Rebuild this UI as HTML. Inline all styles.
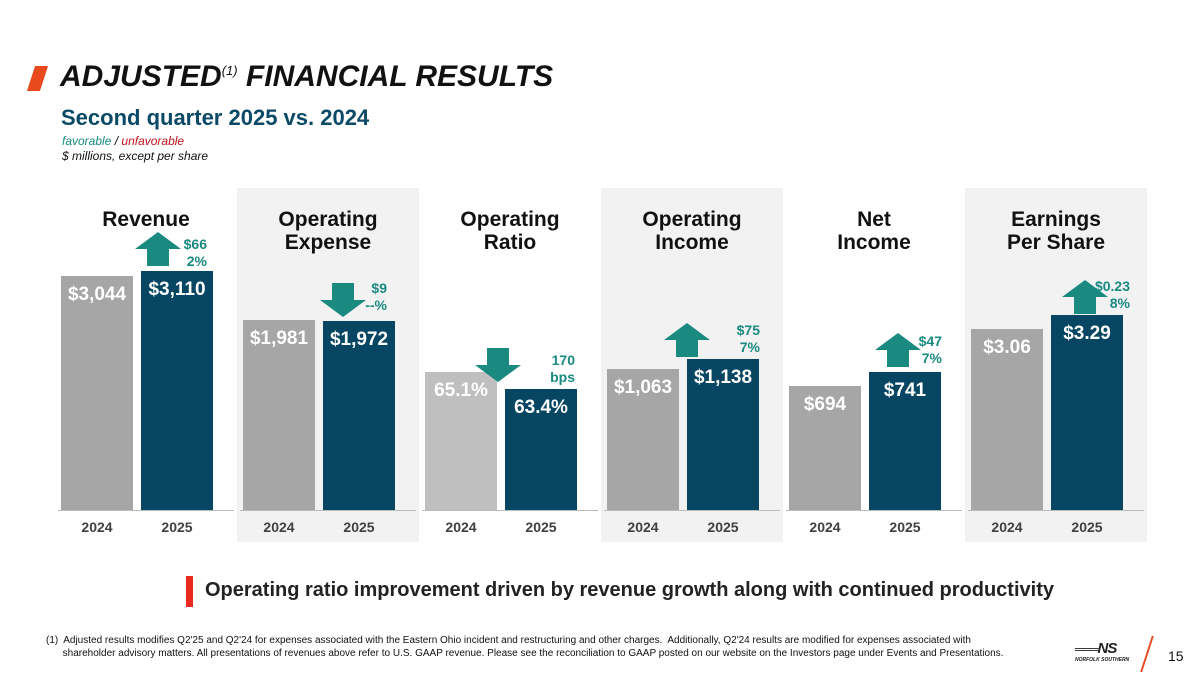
<!DOCTYPE html>
<html><head><meta charset="utf-8"><style>
body{margin:0;width:1200px;height:675px;background:#fff;position:relative;overflow:hidden;font-family:"Liberation Sans",sans-serif}
.a{position:absolute}
.panel{position:absolute;top:188px;height:354px;width:182px;background:#f2f2f2}
.ttl{position:absolute;width:182px;text-align:center;font-weight:bold;font-size:21px;line-height:23px;color:#111;top:208px}
.bar{position:absolute;width:72px}
.bl{position:absolute;color:#fff;font-weight:bold;font-size:19px;white-space:nowrap;width:100%;text-align:center}
.yr{position:absolute;top:519px;font-weight:bold;font-size:14px;color:#404040;width:72px;text-align:center}
.chg{position:absolute;color:#1a8a80;font-weight:bold;font-size:14px;line-height:17px;text-align:right}
</style></head><body>
<div class="a" style="left:31px;top:66px;width:13px;height:25px;background:#e8491d;transform:skewX(-18deg)"></div>
<div class="a" style="left:60px;top:60px;font-size:30px;font-weight:bold;font-style:italic;color:#111">ADJUSTED<sup style="font-size:13px;font-weight:normal">(1)</sup> FINANCIAL RESULTS</div>
<div class="a" style="left:61px;top:105px;font-size:22px;font-weight:bold;color:#0b4a66">Second quarter 2025 vs. 2024</div>
<div class="a" style="left:62px;top:134px;font-size:12px;font-style:italic"><span style="color:#1a8a80">favorable</span> / <span style="color:#c0141c">unfavorable</span></div>
<div class="a" style="left:62px;top:149px;font-size:12px;font-style:italic;color:#111">$ millions, except per share</div>
<div id="chart"></div>
<div class="a" style="left:186px;top:576px;width:7px;height:31px;background:#e8291d"></div>
<div class="a" style="left:205px;top:579px;font-size:20px;font-weight:bold;color:#222">Operating ratio improvement driven by revenue growth along with continued productivity</div>
<div class="a" style="left:46px;top:634px;font-size:10px;line-height:13px;color:#111;width:1010px;white-space:nowrap">(1)&nbsp; Adjusted results modifies Q2'25 and Q2'24 for expenses associated with the Eastern Ohio incident and restructuring and other charges.&nbsp; Additionally, Q2'24 results are modified for expenses associated with<br>&nbsp;&nbsp;&nbsp;&nbsp;&nbsp;&nbsp;shareholder advisory matters. All presentations of revenues above refer to U.S. GAAP revenue. Please see the reconciliation to GAAP posted on our website on the Investors page under Events and Presentations.</div>
<div class="a" style="left:1075px;top:640px;font-size:12px;font-weight:bold;font-style:italic;color:#222;letter-spacing:-1px">═══<span style="font-size:15px">NS</span><div style="font-size:5px;letter-spacing:0">NORFOLK SOUTHERN</div></div>
<div class="a" style="left:1146px;top:636px;width:2px;height:36px;background:#e8491d;transform:skewX(-18deg)"></div>
<div class="a" style="left:1168px;top:648px;font-size:14px;color:#111">15</div>
<script>
const titles=["Revenue","Operating<br>Expense","Operating<br>Ratio","Operating<br>Income","Net<br>Income","Earnings<br>Per Share"];
const values2024=[3044,1981,65.1,1063,694,3.06];
const values2025=[3110,1972,63.4,1138,741,3.29];
const labels2024=["$3,044","$1,981","65.1%","$1,063","$694","$3.06"];
const labels2025=["$3,110","$1,972","63.4%","$1,138","$741","$3.29"];
const changeTop=["$66","$9","170","$75","$47","$0.23"];
const changeBottom=["2%","--%","bps","7%","7%","8%"];
const arrowDir=["up","down","down","up","up","up"];
const years=["2024","2025"];
// per-panel axis domains [min, max] mapped to [0, px height]
const domMin=[0,0,51.3,0,278,0];
const domMax=[3110,1981,65.1,1138,741,3.29];
const domPx=[239,190,138,151,138,195];
const base=510;
const c=document.getElementById('chart');
function yScale(i,v){return (v-domMin[i])/(domMax[i]-domMin[i])*domPx[i];}
const arrowPos=[[135,232,207,236],[320,283,387,280],[475,348,575,352],[664,323,760,322],[875,333,942,333],[1062,280,1130,278]];
for(let i=0;i<6;i++){
  const x0=55+i*182;
  if(i%2==1){const p=document.createElement('div');p.className='panel';p.style.left=x0+'px';
  
  
  c.appendChild(p);}
  const t=document.createElement('div');t.className='ttl';t.style.left=x0+'px';t.innerHTML=titles[i];
  
  
  c.appendChild(t);
  const ax=document.createElement('div');ax.className='a';ax.style.cssText=`left:${x0+3}px;top:${base}px;width:176px;height:1px;background:#bbb`;
  
  
  c.appendChild(ax);
  [[values2024,labels2024],[values2025,labels2025]].forEach((s,j)=>{
    const h=yScale(i,s[0][i]);
    const b=document.createElement('div');b.className='bar';
    b.style.left=(x0+6+j*80)+'px';b.style.top=(base-h)+'px';b.style.height=h+'px';
    b.style.background=j?'#064663':(i==2?'#bfbfbf':'#a6a6a6');
    
    
    const l=document.createElement('div');l.className='bl';l.style.top='8px';l.textContent=s[1][i];
    
    
    b.appendChild(l);c.appendChild(b);
    const y=document.createElement('div');y.className='yr';y.style.left=(x0+6+j*80)+'px';y.textContent=years[j];
    
    
    c.appendChild(y);
  });
  const ap=arrowPos[i];
  const svg=document.createElementNS('http://www.w3.org/2000/svg','svg');
  svg.setAttribute('width','46');svg.setAttribute('height','34');
  svg.style.cssText=`position:absolute;left:${ap[0]}px;top:${ap[1]}px`;
  svg.innerHTML=arrowDir[i]=='up'?'<polygon points="23,0 46,17 34,17 34,34 12,34 12,17 0,17" fill="#1a8a80"/>':'<polygon points="23,34 46,17 34,17 34,0 12,0 12,17 0,17" fill="#1a8a80"/>';
  
  
  c.appendChild(svg);
  const ch=document.createElement('div');ch.className='chg';ch.style.right=(1200-ap[2])+'px';ch.style.top=ap[3]+'px';
  ch.innerHTML=changeTop[i]+'<br>'+changeBottom[i];
  
  
  c.appendChild(ch);
}
</script>
</body></html>
